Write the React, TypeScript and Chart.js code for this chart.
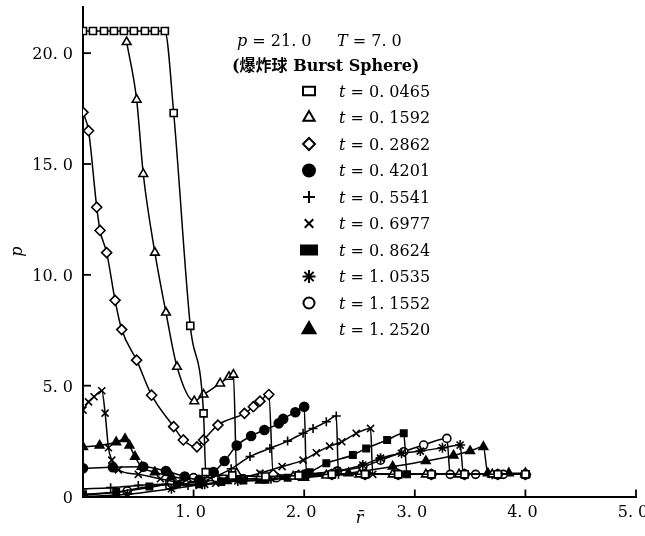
import React, { useEffect, useRef } from 'react';
import { Chart, registerables } from 'chart.js';
import * as helpers from 'chart.js/helpers';

Chart.register(...registerables);

// ---- axis ticks ----
const xTickValues = [1, 2, 3, 4, 5];
const xTickLabels = ['1. 0', '2. 0', '3. 0', '4. 0', '5. 0'];
const yTickValues = [0, 5, 10, 15, 20];
const yTickLabels = ['0', '5. 0', '10. 0', '15. 0', '20. 0'];

// ---- legend times ----
const timeLabels = ['0. 0465', '0. 1592', '0. 2862', '0. 4201', '0. 5541', '0. 6977', '0. 8624', '1. 0535', '1. 1552', '1. 2520'];

// ---- series (r, p) ----
const r_0465 = [0, 0.09, 0.19, 0.28, 0.37, 0.46, 0.56, 0.65, 0.74, 0.82, 0.97, 1.09, 1.11, 1.35, 1.65, 1.95, 2.25, 2.55, 2.85, 3.15, 3.45, 3.75, 4.0];
const p_0465 = [21, 21, 21, 21, 21, 21, 21, 21, 21, 17.3, 7.7, 3.75, 1.1, 0.95, 0.9, 0.95, 1.0, 1.0, 1.0, 1.0, 1.0, 1.0, 1.0];

const r_1592 = [0.395, 0.485, 0.545, 0.65, 0.75, 0.85, 1.006, 1.09, 1.24, 1.32, 1.36, 1.39, 1.6, 1.9, 2.2, 2.5, 2.8, 3.1, 3.4, 3.7, 4.0];
const p_1592 = [20.5, 17.9, 14.55, 11.0, 8.3, 5.85, 4.3, 4.6, 5.1, 5.4, 5.5, 1.05, 0.9, 0.9, 0.95, 1.0, 1.0, 1.0, 1.0, 1.0, 1.0];

const r_2862 = [0, 0.05, 0.124, 0.154, 0.214, 0.29, 0.35, 0.485, 0.62, 0.82, 0.907, 1.03, 1.09, 1.22, 1.46, 1.54, 1.6, 1.68, 1.72, 1.95, 2.25, 2.55, 2.85, 3.15, 3.45, 3.75, 4.0];
const p_2862 = [17.33, 16.5, 13.05, 12.0, 11.0, 8.85, 7.53, 6.15, 4.57, 3.15, 2.55, 2.24, 2.55, 3.22, 3.75, 4.05, 4.3, 4.6, 1.0, 0.95, 1.0, 1.0, 1.0, 1.0, 1.0, 1.0, 1.0];

const r_4201 = [0, 0.27, 0.545, 0.75, 0.92, 1.05, 1.18, 1.28, 1.39, 1.52, 1.64, 1.77, 1.81, 1.92, 2.0, 2.02, 2.25, 2.55, 2.85, 3.15, 3.45, 3.75, 4.0];
const p_4201 = [1.27, 1.32, 1.34, 1.15, 0.9, 0.75, 1.1, 1.6, 2.3, 2.73, 3.0, 3.3, 3.5, 3.8, 4.05, 1.0, 1.0, 1.0, 1.0, 1.0, 1.0, 1.0, 1.0];

const r_5541 = [0, 0.25, 0.5, 0.75, 0.95, 1.1, 1.22, 1.34, 1.51, 1.69, 1.85, 1.99, 2.08, 2.2, 2.29, 2.31, 2.55, 2.85, 3.15, 3.45, 3.75, 4.0];
const p_5541 = [0.35, 0.4, 0.5, 0.55, 0.5, 0.7, 0.95, 1.25, 1.8, 2.17, 2.5, 2.85, 3.07, 3.37, 3.63, 1.0, 1.0, 1.0, 1.0, 1.0, 1.0, 1.0];

const r_6977 = [0, 0.05, 0.1, 0.17, 0.2, 0.23, 0.26, 0.32, 0.5, 0.7, 0.9, 1.05, 1.2, 1.4, 1.6, 1.8, 1.99, 2.11, 2.23, 2.34, 2.47, 2.6, 2.62, 2.85, 3.15, 3.45, 3.75, 4.0];
const p_6977 = [3.9, 4.27, 4.5, 4.77, 3.76, 2.2, 1.64, 1.2, 1.0, 0.8, 0.6, 0.5, 0.6, 0.8, 1.05, 1.35, 1.64, 1.97, 2.27, 2.47, 2.85, 3.07, 1.0, 1.0, 1.0, 1.0, 1.0, 1.0];

const r_8624 = [0, 0.3, 0.6, 0.85, 1.05, 1.25, 1.45, 1.65, 1.85, 2.05, 2.2, 2.44, 2.56, 2.75, 2.9, 2.93, 3.15, 3.45, 3.75, 4.0];
const p_8624 = [0.1, 0.2, 0.45, 0.55, 0.55, 0.65, 0.72, 0.75, 0.85, 1.1, 1.5, 1.87, 2.17, 2.55, 2.85, 1.0, 1.0, 1.0, 1.0, 1.0];

const r_10535 = [0, 0.4, 0.8, 1.1, 1.4, 1.7, 2.0, 2.3, 2.53, 2.69, 2.88, 3.05, 3.25, 3.41, 3.44, 3.7, 4.0];
const p_10535 = [0.0, 0.1, 0.35, 0.55, 0.7, 0.8, 0.95, 1.15, 1.42, 1.73, 1.95, 2.05, 2.2, 2.32, 1.0, 1.0, 1.0];

const r_11552 = [0, 0.4, 0.8, 1.0, 1.2, 1.45, 1.75, 2.0, 2.3, 2.53, 2.69, 2.9, 3.08, 3.29, 3.32, 3.55, 3.8, 4.0];
const p_11552 = [0.05, 0.25, 0.6, 0.85, 0.85, 0.8, 0.85, 1.0, 1.15, 1.34, 1.64, 2.02, 2.32, 2.62, 1.0, 1.0, 1.0, 1.0];

const r_12520 = [0, 0.15, 0.3, 0.38, 0.42, 0.47, 0.53, 0.65, 0.8, 1.0, 1.3, 1.6, 2.0, 2.4, 2.8, 3.1, 3.35, 3.5, 3.62, 3.66, 3.85, 4.0];
const p_12520 = [2.24, 2.3, 2.45, 2.6, 2.3, 1.8, 1.34, 1.1, 0.9, 0.75, 0.7, 0.72, 0.85, 1.05, 1.35, 1.6, 1.85, 2.05, 2.24, 1.05, 1.05, 1.05];

const seriesR = [r_0465, r_1592, r_2862, r_4201, r_5541, r_6977, r_8624, r_10535, r_11552, r_12520];
const seriesP = [p_0465, p_1592, p_2862, p_4201, p_5541, p_6977, p_8624, p_10535, p_11552, p_12520];

// ---- styles ----
const markerStyles = [
  { style: 'rect', radius: 5, fill: '#fff', lr: 6, lw: 12 },
  { style: 'triangle', radius: 5, fill: '#fff', lr: 6.5, lw: 0 },
  { style: 'rectRot', radius: 5, fill: '#fff', lr: 6, lw: 0 },
  { style: 'circle', radius: 4.5, fill: '#000', lr: 6, lw: 0 },
  { style: 'cross', radius: 4.5, fill: '#000', lr: 6, lw: 0 },
  { style: 'crossRot', radius: 5, fill: '#000', lr: 6, lw: 0 },
  { style: 'rect', radius: 4.5, fill: '#000', lr: 6.5, lw: 16 },
  { style: 'star', radius: 5, fill: '#000', lr: 6.5, lw: 0 },
  { style: 'circle', radius: 4, fill: '#fff', lr: 5.5, lw: 0 },
  { style: 'triangle', radius: 5, fill: '#000', lr: 7.5, lw: 0 },
];

const SERIF = '"DejaVu Serif", serif';
const F_REG = `16px ${SERIF}`;
const F_IT = `italic 16px ${SERIF}`;
const F_BOLD = `bold 16px ${SERIF}`;
const F_CJK = `bold 16px "Noto Sans CJK SC", sans-serif`;

function drawRuns(ctx: CanvasRenderingContext2D, runs: [string, string][], x: number, y: number) {
  let cx = x;
  for (const [t, f] of runs) {
    ctx.font = f;
    ctx.fillText(t, cx, y);
    cx += ctx.measureText(t).width;
  }
}

const overlayPlugin = {
  id: 'overlay',
  afterDraw(chart: any) {
    const ctx: CanvasRenderingContext2D = chart.ctx;
    const xs = chart.scales.x;
    const ys = chart.scales.y;
    ctx.save();
    ctx.strokeStyle = '#000';
    ctx.fillStyle = '#000';
    ctx.lineWidth = 1.8;
    for (const v of yTickValues) {
      if (v === 0) continue;
      const py = ys.getPixelForValue(v);
      ctx.beginPath();
      ctx.moveTo(xs.left, py);
      ctx.lineTo(xs.left + 8, py);
      ctx.stroke();
    }
    for (const v of xTickValues) {
      const px = xs.getPixelForValue(v);
      ctx.beginPath();
      ctx.moveTo(px, ys.bottom);
      ctx.lineTo(px, ys.bottom - 7);
      ctx.stroke();
    }

    ctx.textBaseline = 'alphabetic';
    ctx.textAlign = 'left';
    drawRuns(ctx, [['p', F_IT], [' = 21. 0', F_REG]], 237, 46);
    drawRuns(ctx, [['T', F_IT], [' = 7. 0', F_REG]], 337, 46);
    drawRuns(ctx, [['(', F_BOLD], ['爆炸球', F_CJK], [' Burst Sphere)', F_BOLD]], 232, 71);

    const drawP = (helpers as any).drawPointLegend || (helpers as any).drawPoint;
    timeLabels.forEach((lab, i) => {
      const yc = 91 + i * 26.5;
      const m = markerStyles[i];
      ctx.save();
      ctx.fillStyle = m.fill;
      ctx.strokeStyle = '#000';
      ctx.lineWidth = 2;
      drawP(ctx, { pointStyle: m.style, radius: m.lr, rotation: 0, borderWidth: 2 }, 309, yc, m.lw || undefined);
      ctx.restore();
      ctx.fillStyle = '#000';
      drawRuns(ctx, [['t', F_IT], [' = ' + lab, F_REG]], 339, yc + 5.8);
    });
    ctx.restore();
  },
};

export default function App() {
  const ref = useRef<HTMLCanvasElement | null>(null);
  useEffect(() => {
    document.body.style.margin = '0';
    const canvas = ref.current!;
    const datasets = seriesR.map((rs, i) => {
      const m = markerStyles[i];
      return {
        label: 't = ' + timeLabels[i],
        data: rs.map((r, j) => ({ x: r, y: seriesP[i][j] })),
        showLine: true,
        borderColor: '#000',
        borderWidth: 1.5,
        cubicInterpolationMode: 'monotone' as const,
        pointStyle: m.style as any,
        pointRadius: m.radius,
        pointBackgroundColor: m.fill,
        pointBorderColor: '#000',
        pointBorderWidth: 1.6,
        fill: false,
      };
    });
    const chart = new Chart(canvas, {
      type: 'scatter',
      data: { datasets },
      options: {
        animation: false,
        responsive: false,
        devicePixelRatio: 1,
        layout: { padding: { top: 5, right: 9, left: 0, bottom: 0 } },
        plugins: { legend: { display: false }, tooltip: { enabled: false } },
        scales: {
          x: {
            type: 'linear',
            min: 0,
            max: 5,
            grid: { display: false, drawTicks: false },
            border: { display: true, color: '#000', width: 2 },
            ticks: {
              stepSize: 1,
              includeBounds: false,
              autoSkip: false,
              maxRotation: 0,
              padding: 7,
              labelOffset: -3,
              color: '#000',
              font: { family: SERIF, size: 16 },
              callback: (v: any) => {
                const k = xTickValues.indexOf(Number(v));
                return k >= 0 ? xTickLabels[k] : '';
              },
            },
            title: {
              display: true,
              text: 'r\u0304',
              color: '#000',
              font: { family: SERIF, size: 16, style: 'italic' },
              padding: { top: 0, bottom: 8 },
            },
            afterFit: (s: any) => {
              s.height = 39.5;
              s.paddingLeft = 0;
              s.paddingRight = 0;
            },
          },
          y: {
            type: 'linear',
            min: 0,
            max: 22.1,
            grid: { display: false, drawTicks: false },
            border: { display: true, color: '#000', width: 2 },
            ticks: {
              stepSize: 5,
              includeBounds: false,
              padding: 10,
              labelOffset: 2,
              color: '#000',
              font: { family: SERIF, size: 16 },
              callback: (v: any) => {
                const k = yTickValues.indexOf(Number(v));
                return k >= 0 ? yTickLabels[k] : '';
              },
            },
            title: {
              display: true,
              text: 'p',
              color: '#000',
              font: { family: SERIF, size: 16, style: 'italic' },
              padding: { top: 8, bottom: 0 },
            },
            afterFit: (s: any) => {
              s.width = 83;
              s.paddingTop = 0;
              s.paddingBottom = 0;
            },
          },
        },
      },
      plugins: [overlayPlugin],
    });
    return () => chart.destroy();
  }, []);
  return <canvas ref={ref} width={645} height={536} style={{ display: 'block', width: 645, height: 536 }} />;
}
